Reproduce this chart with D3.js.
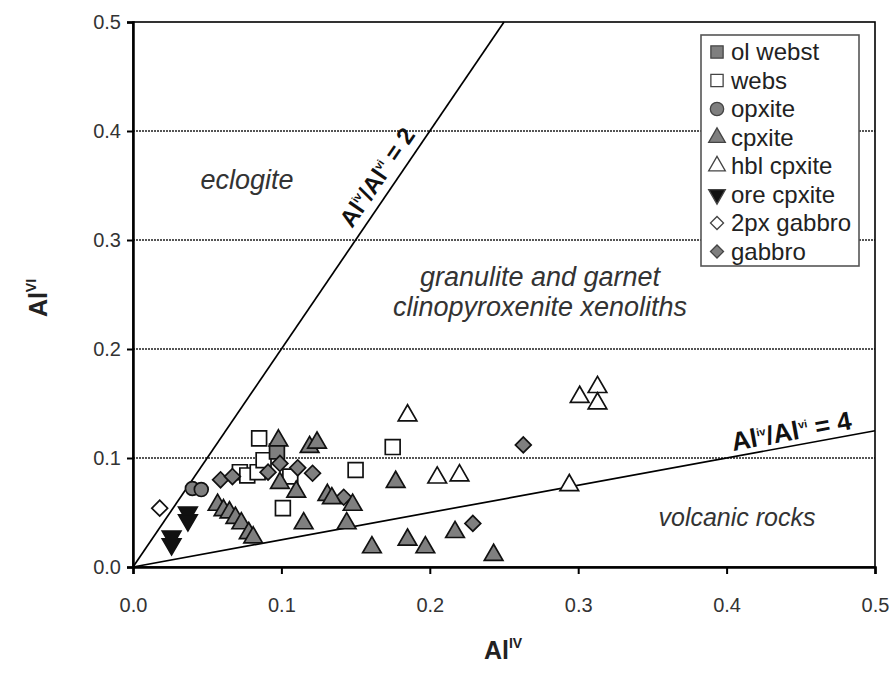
<!DOCTYPE html>
<html>
<head>
<meta charset="utf-8">
<script src="https://cdn.jsdelivr.net/npm/d3@7"></script>
<style>
  body { margin: 0; background: #fff; }
  text { font-family: "Liberation Sans", Arial, sans-serif; }
</style>
</head>
<body>
<div id="chart"></div>
<script>
var width = 895,
    height = 676;

// data: [Al IV, Al VI]
var olWebst = [[0.097, 0.106]];
var webs = [[0.085, 0.118], [0.072, 0.087], [0.077, 0.084], [0.084, 0.087], [0.088, 0.098],
            [0.106, 0.083], [0.101, 0.054], [0.150, 0.089], [0.175, 0.110]];
var opxite = [[0.040, 0.072], [0.046, 0.071]];
var cpxite = [[0.098, 0.116], [0.119, 0.110], [0.124, 0.114], [0.099, 0.077], [0.110, 0.069],
              [0.115, 0.040], [0.131, 0.066], [0.134, 0.063], [0.148, 0.057], [0.144, 0.040],
              [0.057, 0.057], [0.061, 0.052], [0.065, 0.050], [0.069, 0.045], [0.073, 0.040],
              [0.078, 0.031], [0.081, 0.027], [0.161, 0.018], [0.177, 0.078], [0.185, 0.025],
              [0.197, 0.018], [0.217, 0.032], [0.243, 0.011]];
var hblCpxite = [[0.185, 0.139], [0.205, 0.082], [0.220, 0.084], [0.294, 0.075],
                 [0.301, 0.156], [0.313, 0.165], [0.313, 0.150]];
var oreCpxite = [[0.026, 0.028], [0.026, 0.021], [0.037, 0.050], [0.037, 0.043]];
var px2Gabbro = [[0.018, 0.054]];
var gabbro = [[0.059, 0.080], [0.067, 0.083], [0.091, 0.087], [0.099, 0.095], [0.111, 0.091],
              [0.121, 0.086], [0.142, 0.064], [0.229, 0.040], [0.263, 0.112]];

var ticks = [0, 0.1, 0.2, 0.3, 0.4, 0.5];
var gridTicks = [0.1, 0.2, 0.3, 0.4];

var svg = d3.select("#chart").append("svg").attr("width", width).attr("height", height)
            .style("background", "#fff");

var x = d3.scaleLinear().domain([0, 0.5]).range([133, 875]);
var y = d3.scaleLinear().domain([0, 0.5]).range([567, 22]);

// grid lines
svg.selectAll(".grid").data(gridTicks).enter().append("line")
    .attr("x1", x(0)).attr("x2", x(0.5))
    .attr("y1", d => y(d)).attr("y2", d => y(d))
    .attr("stroke", "#555").attr("stroke-width", 2).attr("stroke-dasharray", "2,1");

// ratio lines: Al VI = 2 Al IV and Al VI = Al IV / 4
svg.append("line").attr("x1", x(0)).attr("y1", y(0)).attr("x2", x(0.25)).attr("y2", y(0.5))
    .attr("stroke", "#000").attr("stroke-width", 1.7);
svg.append("line").attr("x1", x(0)).attr("y1", y(0)).attr("x2", x(0.5)).attr("y2", y(0.125))
    .attr("stroke", "#000").attr("stroke-width", 1.7);

// frame
svg.append("rect").attr("x", x(0)).attr("y", y(0.5)).attr("width", x(0.5) - x(0))
    .attr("height", y(0) - y(0.5)).attr("fill", "none").attr("stroke", "#000").attr("stroke-width", 1.6);

// axes
var xAxis = d3.axisBottom(x).tickValues(ticks).tickFormat(d3.format(".1f")).tickSize(7).tickPadding(24);
var yAxis = d3.axisLeft(y).tickValues(ticks).tickFormat(d3.format(".1f")).tickSize(6).tickPadding(6);

var gx = svg.append("g").attr("transform", "translate(0," + y(0) + ")").call(xAxis);
var gy = svg.append("g").attr("transform", "translate(" + x(0) + ",0)").call(yAxis);
[gx, gy].forEach(function(g) {
    g.select(".domain").attr("stroke-width", 2.5);
    g.selectAll(".tick line").attr("stroke-width", 2);
    g.selectAll(".tick text").attr("font-size", 20).attr("fill", "#333")
        .style("font-family", "'Liberation Sans', Arial, sans-serif");
});

// symbols
var sq = d3.symbol().type(d3.symbolSquare).size(220);
var dia = d3.symbol().type(d3.symbolSquare).size(125);
var tri = d3.symbol().type(d3.symbolTriangle).size(150);
var circ = d3.symbol().type(d3.symbolCircle).size(150);

var series = [
    {name: "ol webst", data: olWebst, path: sq, rot: 0, fill: "#7f7f7f"},
    {name: "webs", data: webs, path: sq, rot: 0, fill: "#fff"},
    {name: "opxite", data: opxite, path: circ, rot: 0, fill: "#7f7f7f"},
    {name: "cpxite", data: cpxite, path: tri, rot: 0, fill: "#7f7f7f"},
    {name: "hbl cpxite", data: hblCpxite, path: tri, rot: 0, fill: "#fff"},
    {name: "ore cpxite", data: oreCpxite, path: tri, rot: 180, fill: "#111"},
    {name: "2px gabbro", data: px2Gabbro, path: dia, rot: 45, fill: "#fff"},
    {name: "gabbro", data: gabbro, path: dia, rot: 45, fill: "#7f7f7f"}
];

// draw order roughly like the original (gabbro and cpxite on top of squares)
var drawOrder = [1, 0, 2, 7, 3, 4, 5, 6];
drawOrder.forEach(function(i) {
    var s = series[i];
    svg.append("g").selectAll("path").data(s.data).enter().append("path")
        .attr("d", s.path())
        .attr("transform", d => "translate(" + x(d[0]) + "," + y(d[1]) + ") rotate(" + s.rot + ")")
        .attr("fill", s.fill).attr("stroke", "#111").attr("stroke-width", 1.7);
});

// legend
var legend = svg.append("g");
legend.append("rect").attr("x", 701).attr("y", 35).attr("width", 158).attr("height", 231)
    .attr("fill", "#fff").attr("stroke", "#555").attr("stroke-width", 1.6);
var lsq = d3.symbol().type(d3.symbolSquare).size(150);
var ldia = d3.symbol().type(d3.symbolSquare).size(85);
var ltri = d3.symbol().type(d3.symbolTriangle).size(120);
var lcirc = d3.symbol().type(d3.symbolCircle).size(140);
var legendPaths = [lsq, lsq, lcirc, ltri, ltri, ltri, ldia, ldia];
series.forEach(function(s, i) {
    var ly = 52 + i * 28.5;
    legend.append("path").attr("d", legendPaths[i]())
        .attr("transform", "translate(717," + ly + ") rotate(" + s.rot + ")")
        .attr("fill", s.fill).attr("stroke", "#444").attr("stroke-width", 1.3);
    legend.append("text").attr("x", 731).attr("y", ly + 8).attr("font-size", 24)
        .attr("fill", "#222").text(s.name);
});

// annotations
function italic(tx, ty, str, fs) {
    svg.append("text").attr("x", tx).attr("y", ty).attr("text-anchor", "middle")
        .attr("font-size", fs).attr("font-style", "italic").attr("fill", "#333").text(str);
}
italic(247, 189, "eclogite", 27);
italic(540, 286, "granulite and garnet", 27);
italic(540, 316, "clinopyroxenite xenoliths", 27);
italic(737, 526, "volcanic rocks", 25);

function ratioLabel(tx, ty, angle, num, fs) {
    var t = svg.append("text").attr("transform", "translate(" + tx + "," + ty + ") rotate(" + angle + ")")
        .attr("text-anchor", "middle").attr("font-size", fs).attr("font-weight", "bold").attr("fill", "#111");
    t.append("tspan").text("Al");
    t.append("tspan").attr("font-size", 11).attr("dy", -10).text("iv");
    t.append("tspan").attr("dy", 10).text("/Al");
    t.append("tspan").attr("font-size", 11).attr("dy", -10).text("vi");
    t.append("tspan").attr("dy", 10).text(" = " + num);
}
var a2 = Math.atan2(y(0.5) - y(0), x(0.25) - x(0)) * 180 / Math.PI;
var a4 = Math.atan2(y(0.125) - y(0), x(0.5) - x(0)) * 180 / Math.PI;
ratioLabel(384, 182, a2, 2, 24);
ratioLabel(793, 440, a4, 4, 26);

// axis titles
var xt = svg.append("text").attr("x", 503).attr("y", 659).attr("text-anchor", "middle")
    .attr("font-size", 25).attr("font-weight", "bold").attr("fill", "#222");
xt.append("tspan").text("Al");
xt.append("tspan").attr("font-size", 14).attr("dy", -11).text("IV");

var yt = svg.append("text").attr("transform", "translate(47,298) rotate(-90)").attr("text-anchor", "middle")
    .attr("font-size", 25).attr("font-weight", "bold").attr("fill", "#222");
yt.append("tspan").text("Al");
yt.append("tspan").attr("font-size", 14).attr("dy", -11).text("VI");
</script>
</body>
</html>
